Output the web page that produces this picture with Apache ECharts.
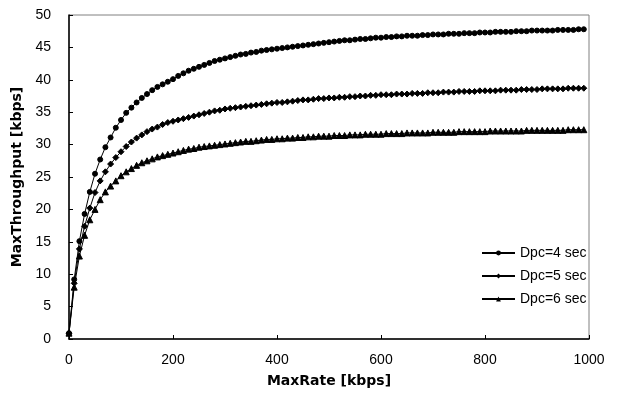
<!DOCTYPE html>
<html>
<head>
<meta charset="utf-8">
<script src="https://cdn.jsdelivr.net/npm/echarts@6/dist/echarts.min.js"></script>
<style>
  html, body { margin: 0; padding: 0; background: #fff; }
  #chart { width: 618px; height: 394px; }
</style>
</head>
<body>
<div id="chart"></div>
<script>
// MaxRate values (kbps), shared by all three curves
const maxRate = [
  0, 10, 20, 30, 40, 50, 60, 70, 80, 90,
  100, 110, 120, 130, 140, 150, 160, 170, 180, 190,
  200, 210, 220, 230, 240, 250, 260, 270, 280, 290,
  300, 310, 320, 330, 340, 350, 360, 370, 380, 390,
  400, 410, 420, 430, 440, 450, 460, 470, 480, 490,
  500, 510, 520, 530, 540, 550, 560, 570, 580, 590,
  600, 610, 620, 630, 640, 650, 660, 670, 680, 690,
  700, 710, 720, 730, 740, 750, 760, 770, 780, 790,
  800, 810, 820, 830, 840, 850, 860, 870, 880, 890,
  900, 910, 920, 930, 940, 950, 960, 970, 980, 990
];

// MaxThroughput (kbps) for Dpc = 4 s
const dpc4 = [
  0.9, 9.2, 15.1, 19.3, 22.7, 25.5, 27.7, 29.6, 31.1, 32.6,
  33.8, 34.9, 35.7, 36.5, 37.2, 37.8, 38.4, 38.9, 39.3, 39.7,
  40.1, 40.6, 41.0, 41.4, 41.7, 42.0, 42.3, 42.6, 42.9, 43.1,
  43.3, 43.5, 43.7, 43.9, 44.0, 44.2, 44.3, 44.5, 44.6, 44.7,
  44.8, 44.9, 45.0, 45.1, 45.2, 45.3, 45.4, 45.5, 45.6, 45.7,
  45.8, 45.9, 46.0, 46.1, 46.1, 46.2, 46.3, 46.3, 46.4, 46.5,
  46.5, 46.6, 46.6, 46.7, 46.7, 46.8, 46.8, 46.8, 46.9, 46.9,
  47.0, 47.0, 47.0, 47.1, 47.1, 47.1, 47.2, 47.2, 47.2, 47.3,
  47.3, 47.3, 47.4, 47.4, 47.4, 47.4, 47.5, 47.5, 47.5, 47.6,
  47.6, 47.6, 47.6, 47.6, 47.7, 47.7, 47.7, 47.7, 47.8, 47.8
];

// MaxThroughput (kbps) for Dpc = 5 s
const dpc5 = [
  0.9, 8.6, 13.9, 17.4, 20.2, 22.6, 24.4, 25.8, 27.0, 28.0,
  28.9, 29.7, 30.4, 31.0, 31.5, 32.0, 32.4, 32.7, 33.1, 33.4,
  33.6, 33.8, 34.0, 34.2, 34.4, 34.6, 34.8, 35.0, 35.2, 35.3,
  35.5, 35.6, 35.7, 35.8, 35.9, 36.0, 36.1, 36.2, 36.3, 36.4,
  36.5, 36.5, 36.6, 36.7, 36.8, 36.9, 36.9, 37.0, 37.1, 37.1,
  37.2, 37.2, 37.3, 37.3, 37.4, 37.4, 37.5, 37.5, 37.6, 37.6,
  37.7, 37.7, 37.7, 37.8, 37.8, 37.8, 37.9, 37.9, 37.9, 38.0,
  38.0, 38.0, 38.1, 38.1, 38.1, 38.2, 38.2, 38.2, 38.2, 38.3,
  38.3, 38.3, 38.3, 38.4, 38.4, 38.4, 38.4, 38.5, 38.5, 38.5,
  38.5, 38.6, 38.6, 38.6, 38.6, 38.6, 38.7, 38.7, 38.7, 38.7
];

// MaxThroughput (kbps) for Dpc = 6 s
const dpc6 = [
  0.9, 8.0, 12.8, 16.0, 18.4, 20.0, 21.5, 22.7, 23.6, 24.4,
  25.2, 25.8, 26.3, 26.8, 27.2, 27.5, 27.8, 28.1, 28.3, 28.5,
  28.7, 28.9, 29.1, 29.3, 29.4, 29.6, 29.7, 29.8, 29.9, 30.0,
  30.1, 30.2, 30.3, 30.4, 30.5, 30.5, 30.6, 30.7, 30.8, 30.8,
  30.9, 30.9, 31.0, 31.0, 31.1, 31.1, 31.2, 31.2, 31.3, 31.3,
  31.3, 31.4, 31.4, 31.4, 31.5, 31.5, 31.5, 31.6, 31.6, 31.6,
  31.6, 31.7, 31.7, 31.7, 31.7, 31.8, 31.8, 31.8, 31.8, 31.8,
  31.9, 31.9, 31.9, 31.9, 31.9, 32.0, 32.0, 32.0, 32.0, 32.0,
  32.0, 32.1, 32.1, 32.1, 32.1, 32.1, 32.1, 32.1, 32.2, 32.2,
  32.2, 32.2, 32.2, 32.2, 32.2, 32.2, 32.3, 32.3, 32.3, 32.3
];

const seriesNames = ['Dpc=4 sec', 'Dpc=5 sec', 'Dpc=6 sec'];
const seriesSymbols = ['circle', 'diamond', 'triangle'];
const seriesSizes = [5, 6, 6];

const FONT = '"Liberation Sans", Arial, sans-serif';
const TITLE_FONT = '"DejaVu Sans", "Liberation Sans", sans-serif';

function pairs(ys) {
  return maxRate.map((x, i) => [x, ys[i]]);
}

const chart = echarts.init(document.getElementById('chart'), null, { renderer: 'canvas' });

chart.setOption({
  animation: false,
  backgroundColor: '#ffffff',
  textStyle: { fontFamily: FONT },
  grid: {
    left: 69, right: 29, top: 15, bottom: 55,
    show: true, borderColor: '#808080', borderWidth: 1, backgroundColor: 'transparent'
  },
  legend: {
    orient: 'vertical',
    left: 476, top: 241,
    itemWidth: 33, itemHeight: 6, itemGap: 9,
    textStyle: { fontFamily: FONT, fontSize: 14, color: '#000' },
    data: seriesNames
  },
  xAxis: {
    type: 'value',
    min: 0, max: 1000, interval: 200,
    name: 'MaxRate [kbps]',
    nameLocation: 'middle',
    nameGap: 35,
    nameTextStyle: { fontFamily: TITLE_FONT, fontSize: 14, fontWeight: 'bold', color: '#000' },
    axisLine: { lineStyle: { color: '#000', width: 1.5 } },
    axisTick: { inside: true, length: 4, lineStyle: { color: '#000' } },
    axisLabel: { fontFamily: FONT, fontSize: 14, color: '#000', margin: 14, formatter: v => String(v) },
    splitLine: { show: false }
  },
  yAxis: {
    type: 'value',
    min: 0, max: 50, interval: 5,
    name: 'MaxThroughput [kbps]',
    nameLocation: 'middle',
    nameGap: 40,
    nameTextStyle: { fontFamily: TITLE_FONT, fontSize: 14, fontWeight: 'bold', color: '#000' },
    axisLine: { lineStyle: { color: '#000', width: 1.5 } },
    axisTick: { inside: true, length: 4, lineStyle: { color: '#000' } },
    axisLabel: { fontFamily: FONT, fontSize: 14, color: '#000', margin: 18 },
    splitLine: { show: false }
  },
  series: [dpc4, dpc5, dpc6].map((ys, i) => ({
    name: seriesNames[i],
    type: 'line',
    data: pairs(ys),
    symbol: seriesSymbols[i],
    symbolSize: seriesSizes[i],
    showAllSymbol: true,
    lineStyle: { color: '#000', width: 1 },
    itemStyle: { color: '#000', borderColor: '#000' },
    emphasis: { disabled: true }
  }))
});
</script>
</body>
</html>
